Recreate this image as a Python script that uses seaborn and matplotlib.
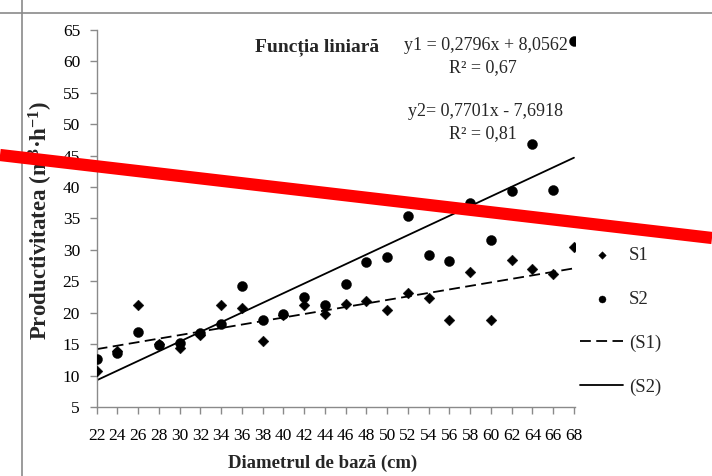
import numpy as np
import pandas as pd
import matplotlib
matplotlib.use("Agg")
import matplotlib.pyplot as plt
from matplotlib.lines import Line2D
import seaborn as sns

# ---------------- data ----------------
diameter = [22, 24, 26, 28, 30, 32, 34, 36, 38, 40, 42, 44,
            46, 48, 50, 52, 54, 56, 58, 60, 62, 64, 66, 68]
s1 = [10.7, 13.9, 21.2, 15.0, 14.4, 16.5, 21.2, 20.8, 15.5, 19.6, 21.3, 19.8,
      21.4, 21.8, 20.5, 23.2, 22.3, 18.9, 26.5, 18.9, 28.4, 27.0, 26.2, 30.4]
s2 = [12.6, 13.6, 16.9, 14.9, 15.2, 16.8, 18.2, 24.3, 18.8, 19.8, 22.5, 21.2,
      24.5, 28.1, 28.8, 35.4, 29.2, 28.3, 37.5, 31.6, 39.4, 46.8, 39.5, 63.3]
slopes = [0.2796, 0.7701]
intercepts = [8.0562, -7.6918]
yticks = [5, 10, 15, 20, 25, 30, 35, 40, 45, 50, 55, 60, 65]

# ---------------- style ----------------
sns.set_theme(style="ticks")
plt.rcParams["font.family"] = ["Liberation Serif", "DejaVu Serif"]
plt.rcParams["mathtext.fontset"] = "custom"
plt.rcParams["mathtext.rm"] = "Liberation Serif"
plt.rcParams["mathtext.bf"] = "Liberation Serif:bold"
plt.rcParams["mathtext.it"] = "Liberation Serif:italic"

W, H = 712, 476
fig = plt.figure(figsize=(W / 100, H / 100), dpi=100)
fig.patch.set_facecolor("white")

left_px, right_px, top_px, bot_px = 96.7, 575, 30, 407
ax = fig.add_axes([left_px / W, 1 - bot_px / H,
                   (right_px - left_px) / W, (bot_px - top_px) / H])
ax.set_facecolor("white")

df = pd.DataFrame({"d": diameter, "S1": s1, "S2": s2})
x = np.array(diameter, dtype=float)
fit1 = slopes[0] * x + intercepts[0]
fit2 = slopes[1] * x + intercepts[1]

sns.lineplot(x=x, y=fit1, ax=ax, color="black", lw=1.3,
             linestyle=(0, (6, 3)), label="(S1)", zorder=2)
sns.lineplot(x=x, y=fit2, ax=ax, color="black", lw=1.3,
             linestyle="-", label="(S2)", zorder=2)
sns.scatterplot(data=df, x="d", y="S1", ax=ax, marker="D", s=30,
                color="black", edgecolor="black", linewidth=0.3,
                label="S1", zorder=3)
sns.scatterplot(data=df, x="d", y="S2", ax=ax, marker="o", s=52,
                color="black", edgecolor="black", linewidth=0.3,
                label="S2", zorder=3)

ax.set_xlim(22, 68.1)
ax.set_ylim(5, 65)
ax.set_xticks(diameter)
ax.set_xticklabels([str(v) for v in diameter])
ax.set_yticks(yticks)
ax.set_yticklabels([str(v) for v in yticks])

spine_c = "#8a8a8a"
for side in ["top", "right"]:
    ax.spines[side].set_visible(False)
for side in ["left", "bottom"]:
    ax.spines[side].set_color(spine_c)
    ax.spines[side].set_linewidth(1.0)
ax.tick_params(axis="both", direction="out", length=5, width=1.0,
               color=spine_c, labelsize=12.5, labelcolor="black")
ax.tick_params(axis="x", pad=10)
ax.tick_params(axis="y", pad=7)

ax.set_xlabel("Diametrul de bază (cm)", fontsize=13.5, fontweight="bold")
ax.set_ylabel(r"Productivitatea (m$^{\mathbf{3}}$·h$^{\mathbf{-1}}$)",
              fontsize=16.5, fontweight="bold")
ax.xaxis.set_label_coords((323 - left_px) / (right_px - left_px),
                          (bot_px - 455) / (bot_px - top_px))
ax.yaxis.set_label_coords((55 - left_px) / (right_px - left_px),
                          (bot_px - 220) / (bot_px - top_px))

# legend
handles, labels = ax.get_legend_handles_labels()
order = ["S1", "S2", "(S1)", "(S2)"]
hmap = dict(zip(labels, handles))
leg = ax.legend([hmap[k] for k in order], order, loc="upper left",
                bbox_to_anchor=(580 / W, 1 - 247 / H),
                bbox_transform=fig.transFigure, frameon=False,
                fontsize=13.5, handlelength=2.3, handletextpad=0.3,
                labelspacing=1.42, borderpad=0, borderaxespad=0,
                markerscale=0.7)

# annotations
def ftext(px, py, s, **kw):
    fig.text(px / W, 1 - py / H, s, ha="center", va="center", **kw)

ftext(317, 47, "Funcția liniară", fontsize=14, fontweight="bold")
ftext(486, 45, "y1 = 0,2796x + 8,0562", fontsize=13)
ftext(483, 68, "R² = 0,67", fontsize=13)
ftext(485, 112, "y2= 0,7701x - 7,6918", fontsize=13)
ftext(483, 134, "R² = 0,81", fontsize=13)

# page frame lines
fig.add_artist(Line2D([0, 1], [1 - 13 / H, 1 - 13 / H], transform=fig.transFigure,
                      color="#8a8a8a", lw=1.2))
fig.add_artist(Line2D([22 / W, 22 / W], [0, 1], transform=fig.transFigure,
                      color="#8a8a8a", lw=1.2))

# red overlay line
fig.add_artist(Line2D([0, 1], [1 - 155 / H, 1 - 238 / H], transform=fig.transFigure,
                      color="#ff0000", lw=8.8, solid_capstyle="butt", zorder=10))

fig.savefig("out.png", dpi=100, facecolor="white")
